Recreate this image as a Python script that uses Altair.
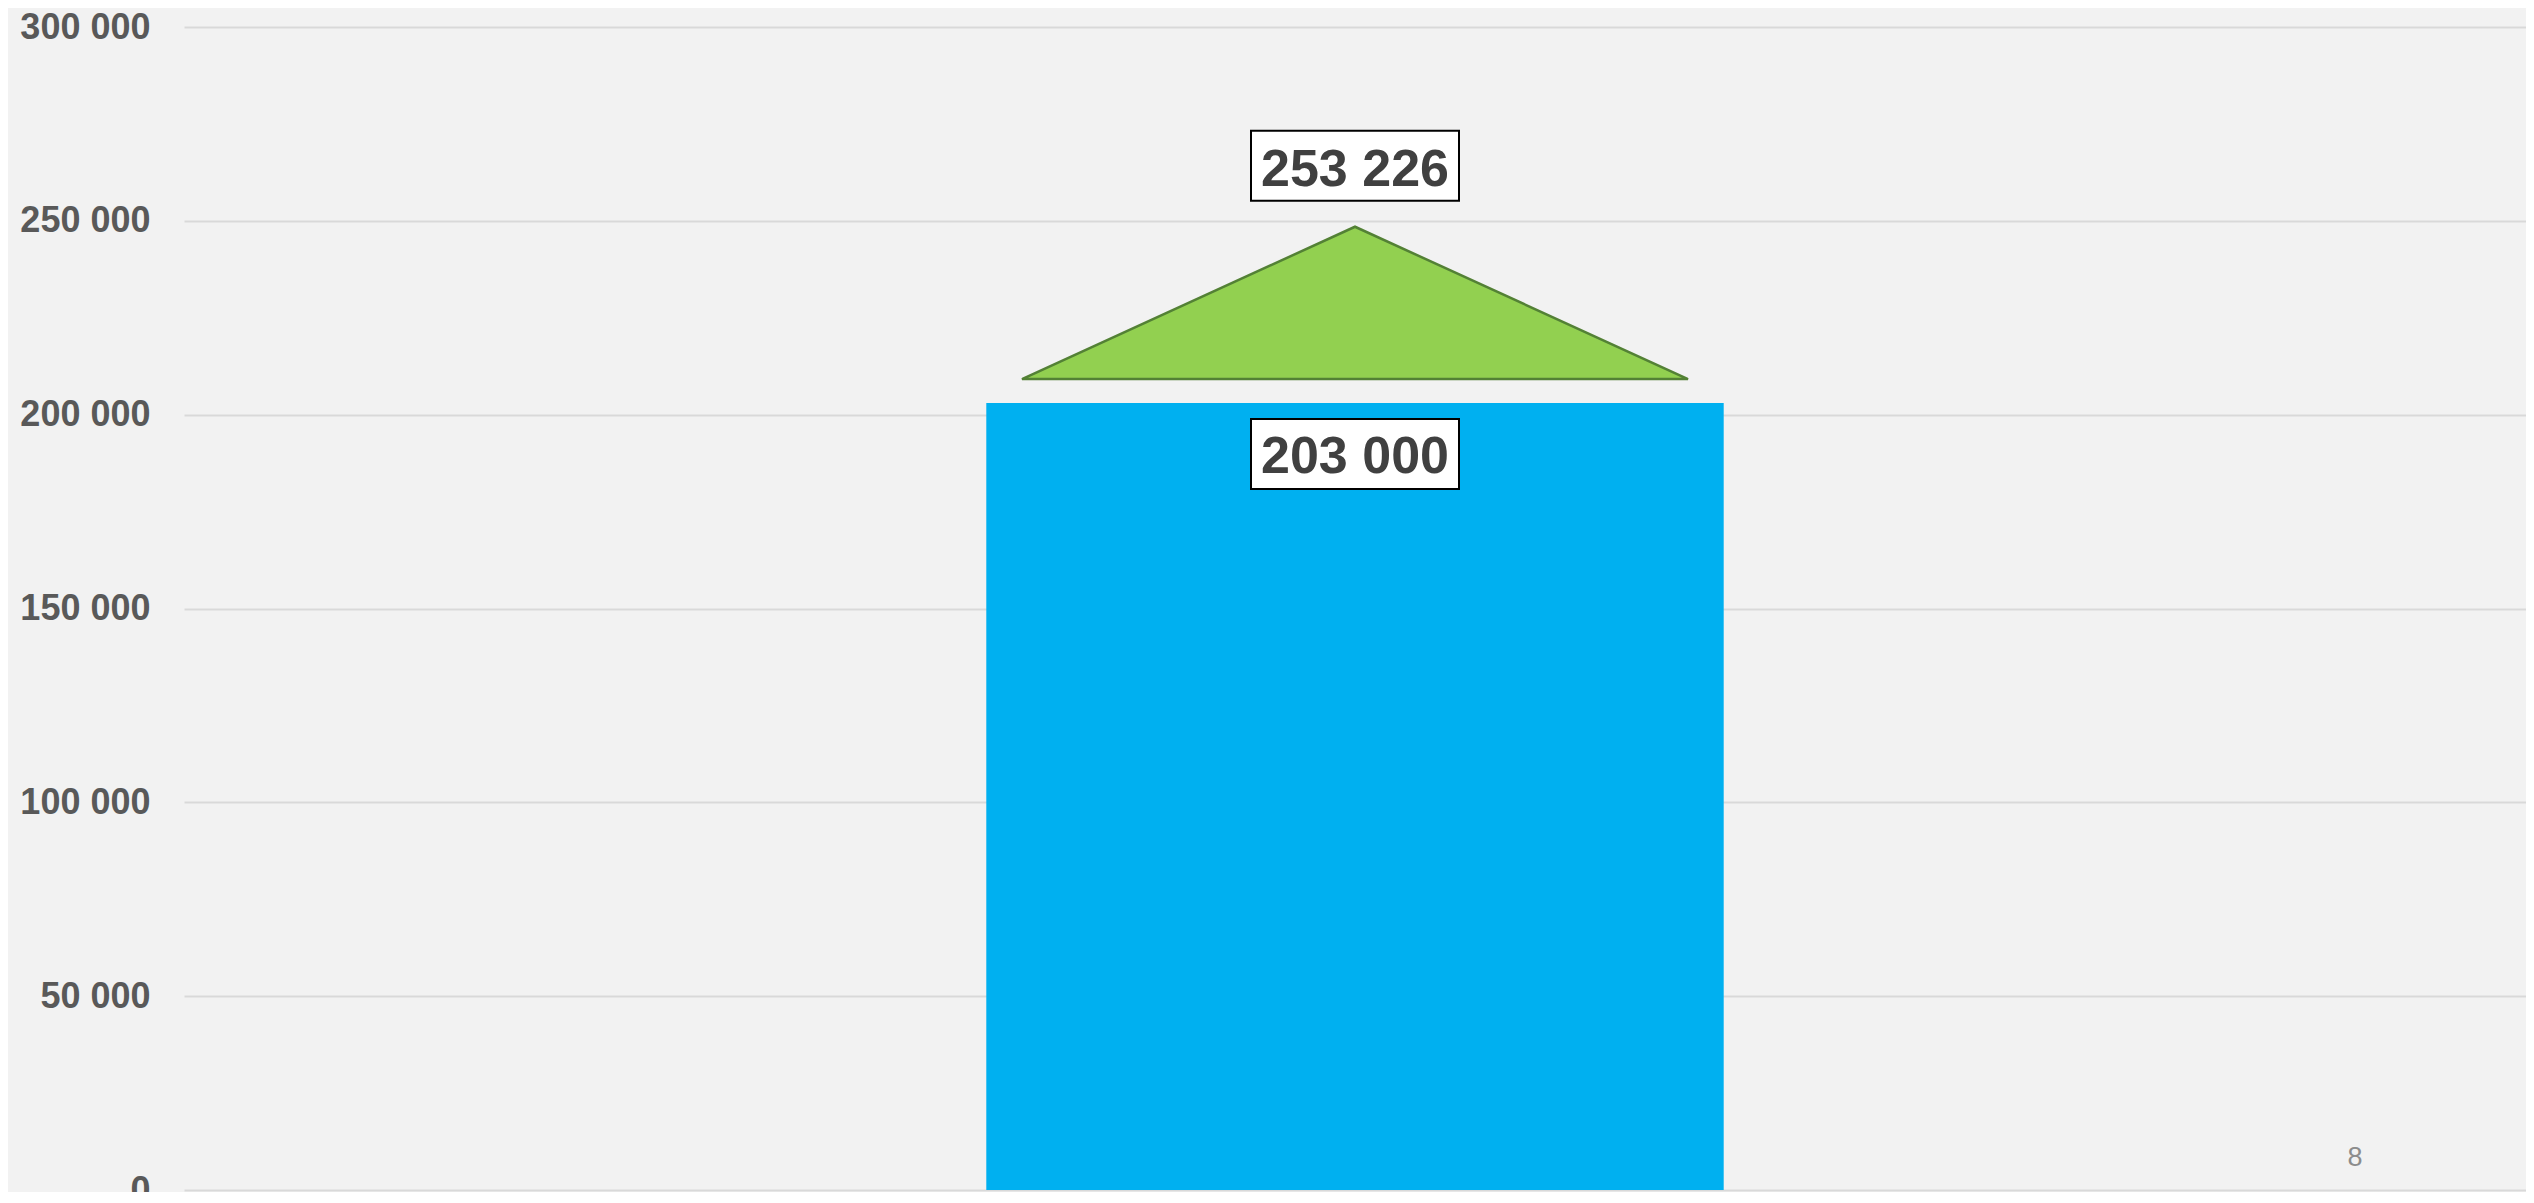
import altair as alt
import pandas as pd

# ---- data ----
categories = ["Total"]
actual_values = [203000]
target_values = [253226]
y_ticks = [0, 50000, 100000, 150000, 200000, 250000, 300000]
page_number = ["8"]

df = pd.DataFrame({"cat": categories, "actual": actual_values, "target": target_values})
df_page = pd.DataFrame({"page": page_number})

W, H = 2342, 1163
FONT = "Liberation Sans, Arial, sans-serif"
fmt = "replace(format(datum.{f}, ','), /,/g, ' ')"

x_enc = alt.X("cat:N", axis=None,
              scale=alt.Scale(paddingInner=0.5, paddingOuter=0.544))
y_scale = alt.Scale(domain=[0, 300000], nice=False)

base = alt.Chart(df).transform_calculate(
    actual_label=fmt.format(f="actual"),
    target_label=fmt.format(f="target"),
)

bars = base.mark_bar(color="#00B0F0").encode(
    x=x_enc,
    y=alt.Y("actual:Q", scale=y_scale, title=None,
            axis=alt.Axis(values=y_ticks,
                          labelExpr="replace(format(datum.value, ','), /,/g, ' ')",
                          domain=False, ticks=False, grid=True,
                          gridColor="#D9D9D9", gridWidth=2,
                          labelFontSize=36, labelFontWeight="bold",
                          labelColor="#595959", labelFont=FONT,
                          labelPadding=34)),
)

triangle = base.mark_point(
    shape="M-1,0.5126L0,0.0553L1,0.5126Z",
    filled=True, fill="#92D050", stroke="#538135", strokeWidth=2.5,
    opacity=1, size=443556,
).encode(x=x_enc, y=alt.Y("target:Q", scale=y_scale))

box_target = base.mark_point(
    shape="M-1,-0.746L1,-0.746L1,-0.073L-1,-0.073Z",
    filled=True, fill="white", stroke="black", strokeWidth=2,
    opacity=1, size=43264,
).encode(x=x_enc, y=alt.Y("target:Q", scale=y_scale))

box_actual = base.mark_point(
    shape="M-1,0.154L1,0.154L1,0.827L-1,0.827Z",
    filled=True, fill="white", stroke="black", strokeWidth=2,
    opacity=1, size=43264,
).encode(x=x_enc, y=alt.Y("actual:Q", scale=y_scale))

text_target = base.mark_text(
    font=FONT, fontSize=52, fontWeight="bold", color="#404040",
    baseline="alphabetic", dy=-22,
).encode(x=x_enc, y=alt.Y("target:Q", scale=y_scale), text="target_label:N")

text_actual = base.mark_text(
    font=FONT, fontSize=52, fontWeight="bold", color="#404040",
    baseline="alphabetic", dy=70,
).encode(x=x_enc, y=alt.Y("actual:Q", scale=y_scale), text="actual_label:N")

page = alt.Chart(df_page).mark_text(
    font=FONT, fontSize=27, color="#8C8C8C", baseline="middle",
).encode(x=alt.value(2171), y=alt.value(1131), text="page:N")

chart = alt.layer(
    bars, triangle, box_target, box_actual, text_target, text_actual, page
).properties(
    width=W, height=H,
    autosize=alt.AutoSizeParams(type="none"),
    padding={"left": 176, "top": 19, "right": 0, "bottom": 2},
    background="#F2F2F2",
).configure_view(stroke=None)

chart.save("out.html", embed_options={"renderer": "svg", "actions": False})
